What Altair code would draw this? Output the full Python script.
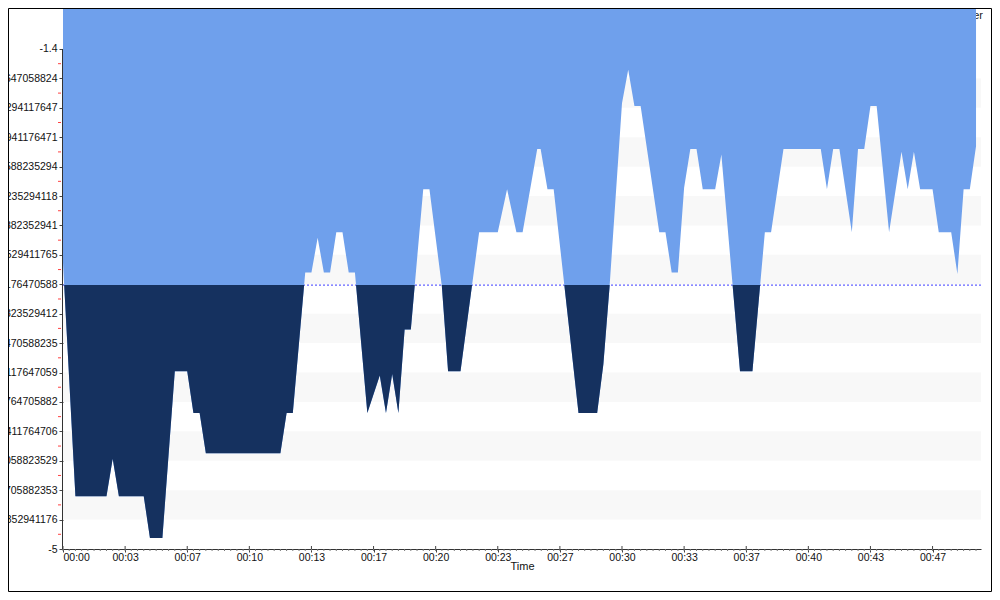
import altair as alt
import pandas as pd

# ---------------- data ----------------
TIME_S = [0, 40, 140, 160, 180, 260, 280, 320, 360, 400, 420, 440, 460, 700, 720, 740,
          780, 800, 820, 840, 860, 880, 900, 920, 940, 980, 1020, 1040, 1060, 1080, 1100,
          1120, 1160, 1180, 1220, 1240, 1280, 1340, 1400, 1430, 1460, 1480, 1527, 1538,
          1560, 1580, 1660, 1720, 1740, 1760, 1800, 1820, 1840, 1860, 1920, 1940, 1960,
          1980, 2000, 2020, 2040, 2060, 2100, 2120, 2180, 2220, 2260, 2280, 2320, 2440,
          2460, 2480, 2500, 2540, 2560, 2580, 2600, 2620, 2660, 2700, 2720, 2740, 2760,
          2800, 2820, 2860, 2880, 2900, 2920, 2940]
VALUE = [-2.94, -4.62, -4.62, -4.35, -4.62, -4.62, -4.92, -4.92, -3.72, -3.72, -4.02, -4.02,
         -4.31, -4.31, -4.02, -4.02, -3.01, -3.01, -2.76, -3.01, -3.01, -2.72, -2.72, -3.01,
         -3.01, -4.02, -3.75, -4.02, -3.74, -4.02, -3.42, -3.42, -2.41, -2.41, -3.11, -3.72,
         -3.72, -2.72, -2.72, -2.41, -2.72, -2.72, -2.12, -2.12, -2.41, -2.41, -4.02, -4.02,
         -3.67, -3.11, -1.79, -1.55, -1.81, -1.81, -2.72, -2.72, -3.01, -3.01, -2.40, -2.12,
         -2.12, -2.41, -2.41, -2.16, -3.72, -3.72, -2.72, -2.72, -2.12, -2.12, -2.41, -2.12,
         -2.12, -2.72, -2.12, -2.12, -1.81, -1.81, -2.72, -2.14, -2.41, -2.14, -2.41, -2.41,
         -2.72, -2.72, -3.02, -2.41, -2.41, -2.10]

THRESHOLD = -3.1

X_TICKS = [0, 200, 400, 600, 800, 1000, 1200, 1400, 1600, 1800, 2000, 2200, 2400, 2600, 2800]
X_TICK_LABELS = ["00:00", "00:03", "00:07", "00:10", "00:13", "00:17", "00:20", "00:23",
                 "00:27", "00:30", "00:33", "00:37", "00:40", "00:43", "00:47"]
Y_TICK_LABELS = ["-5", "-4.7882352941176", "-4.5764705882353", "-4.3647058823529",
                 "-4.1529411764706", "-3.9411764705882", "-3.7294117647059", "-3.5176470588235",
                 "-3.3058823529412", "-3.0941176470588", "-2.8823529411765", "-2.6705882352941",
                 "-2.4588235294118", "-2.2470588235294", "-2.0352941176471", "-1.8235294117647",
                 "-1.6117647058824", "-1.4"]
Y_TICKS = [float(s) for s in Y_TICK_LABELS]
LEGEND_TEXT = "Buffer"
X_TITLE = "Time"

# ---------------- layout / style ----------------
W, H = 918, 541
X_MAX = 2956
Y_MIN, Y_MAX = -5.0, -1.105
LIGHT = "#6fa0ec"
NAVY = "#15315f"
BAND = "#f8f8f8"
FONT = "Liberation Sans"

df = pd.DataFrame({"t": TIME_S, "v": VALUE})

xscale = alt.Scale(domain=[0, X_MAX], nice=False, zero=False)
yscale = alt.Scale(domain=[Y_MIN, Y_MAX], nice=False, zero=False)

x_label_expr = "[" + ",".join("'%s'" % s for s in X_TICK_LABELS) + "][round(datum.value/200)]"
y_label_expr = "[" + ",".join("'%s'" % s for s in Y_TICK_LABELS) + "][round((datum.value+5)*17/3.6)]"

X_AXIS = alt.Axis(values=X_TICKS, labelExpr=x_label_expr, title=X_TITLE)
Y_AXIS = alt.Axis(values=Y_TICKS, labelExpr=y_label_expr, title=None)


def X(field):
    return alt.X(field, scale=xscale, axis=X_AXIS)


def Y(field):
    return alt.Y(field, scale=yscale, axis=Y_AXIS)


# alternating bands
bands = pd.DataFrame({
    "y0": [Y_TICKS[k] for k in range(1, 17, 2)],
    "y1": [Y_TICKS[k + 1] for k in range(1, 17, 2)],
})
band_layer = alt.Chart(bands).mark_rect(color=BAND).encode(
    x=alt.value(0), x2=alt.value(W), y=Y("y0:Q"), y2="y1:Q",
)

legend_layer = alt.Chart(pd.DataFrame({"s": [LEGEND_TEXT]})).mark_text(
    align="right", baseline="alphabetic", font=FONT, fontSize=11, color="#222"
).encode(x=alt.value(920), y=alt.value(11), text="s:N")

thr_layer = alt.Chart(pd.DataFrame({"y": [THRESHOLD]})).mark_rule(
    color="#3b3bff", strokeDash=[2, 2], strokeWidth=1
).encode(x=alt.value(0), x2=alt.value(W), y=Y("y:Q"))

# light blue: everything above the data line
light_layer = alt.Chart(df).mark_area(color=LIGHT, interpolate="linear").encode(
    x=X("t:Q"), y=Y("v:Q"), y2=alt.value(0),
)

# navy: between threshold and data where data is below the threshold.
# The library finds where each segment crosses the threshold so the fill edge
# follows the data line exactly.
thr = "(" + repr(THRESHOLD) + ")"
navy_layer = alt.Chart(df).transform_window(
    window=[alt.WindowFieldDef(op="lead", field="t", **{"as": "tn"}),
            alt.WindowFieldDef(op="lead", field="v", **{"as": "vn1"})],
    sort=[alt.SortField(field="t", order="ascending")],
).transform_calculate(
    cr=f"isValid(datum.vn1) && ((datum.v - {thr}) * (datum.vn1 - {thr}) < 0) ? 1 : 0",
).transform_calculate(
    tc=f"datum.cr == 1 ? datum.t + ({thr} - datum.v) * (datum.tn - datum.t) / (datum.vn1 - datum.v) : datum.t",
).transform_calculate(
    ts="datum.cr == 1 ? [datum.t, datum.tc] : [datum.t]",
    vs=f"datum.cr == 1 ? [datum.v, {thr}] : [datum.v]",
).transform_flatten(
    ["ts", "vs"], as_=["tt", "vv"]
).transform_calculate(
    vlow=f"min(datum.vv, {thr})", th=f"{thr}",
).mark_area(color=NAVY, interpolate="linear").encode(
    x=X("tt:Q"), y=Y("vlow:Q"), y2="th:Q",
)

ydom = pd.DataFrame({"a": [-5.0], "b": [-1.4]})
ydomain_layer = alt.Chart(ydom).mark_rule(color="#333", strokeWidth=1).encode(
    x=alt.value(-0.5), y=Y("a:Q"), y2="b:Q"
)

yminor = pd.DataFrame({"m": [(Y_TICKS[k] + Y_TICKS[k + 1]) / 2 for k in range(17)]})
yminor_layer = alt.Chart(yminor).mark_rule(color="#ff4040", strokeWidth=1).encode(
    x=alt.value(-5), x2=alt.value(-2), y=Y("m:Q")
)

xminor = pd.DataFrame({"m": list(range(0, X_MAX + 1, 20))})
xminor_layer = alt.Chart(xminor).mark_rule(color="#777", strokeWidth=1).encode(
    x=X("m:Q"), y=alt.value(H), y2=alt.value(H + 2)
)
xmajor_up = pd.DataFrame({"m": X_TICKS})
xmajor_layer = alt.Chart(xmajor_up).mark_rule(color="#444", strokeWidth=1).encode(
    x=X("m:Q"), y=alt.value(H - 3), y2=alt.value(H)
)

border_layer = alt.Chart(pd.DataFrame({"a": [0]})).mark_rect(
    fillOpacity=0, stroke="black", strokeWidth=1
).encode(x=alt.value(-54.5), x2=alt.value(928.5), y=alt.value(0.5), y2=alt.value(583.5))

chart = alt.layer(
    band_layer, legend_layer, thr_layer, light_layer, navy_layer,
    ydomain_layer, yminor_layer, xminor_layer, xmajor_layer, border_layer,
).properties(
    width=W, height=H,
    autosize=alt.AutoSizeParams(type="none"),
    padding={"left": 55, "top": 0, "right": 11, "bottom": 43},
).configure_view(stroke=None).configure_axis(
    labelFont=FONT, labelFontSize=10.5, labelColor="#111", titleFont=FONT,
    titleFontSize=11, titleFontWeight="normal", titleColor="#111",
    tickColor="#444", domainColor="#333", grid=False, tickSize=4, labelPadding=2,
).configure_axisY(domain=False).configure_axisX(titlePadding=-2, labelPadding=0, tickSize=3)

chart.save("out.html", embed_options={"renderer": "svg", "actions": False})
